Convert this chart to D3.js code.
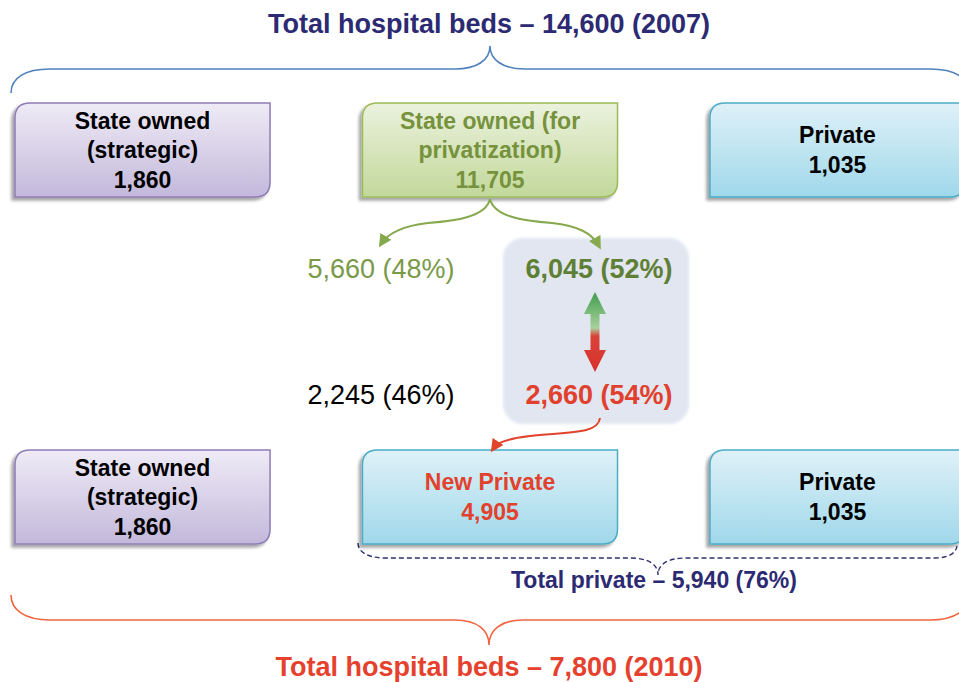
<!DOCTYPE html>
<html>
<head>
<meta charset="utf-8">
<script src="https://cdn.jsdelivr.net/npm/d3@7"></script>
<style>
  html, body { margin: 0; padding: 0; background: #fff; overflow: hidden; }
  text { font-family: Arial, "Liberation Sans", sans-serif; }
</style>
</head>
<body>
<script>
const [W, H] = [959, 682];

// data
const columns = ['strategic', 'privatization', 'private'];
const labels2007 = [['State owned', '(strategic)'], ['State owned (for', 'privatization)'], ['Private']];
const beds2007 = [1860, 11705, 1035];
const labels2010 = [['State owned', '(strategic)'], ['New Private'], ['Private']];
const beds2010 = [1860, 4905, 1035];
const splitKeys = ['kept', 'sold'];
const splitBeds = [5660, 6045];
const splitPct = [48, 52];
const transferBeds = [2245, 2660];
const transferPct = [46, 54];
const years = [2007, 2010];
const totalBeds = [14600, 7800];
const totalPrivate = 5940;
const totalPrivatePct = 76;

const fmt = d3.format(',');

function main() {
    const svg = d3.select('body').append('svg')
        .attr('width', W).attr('height', H);

    const defs = svg.append('defs');

    // shadow
    const f = defs.append('filter').attr('id', 'shadow')
        .attr('x', '-10%').attr('y', '-10%').attr('width', '120%').attr('height', '130%');
    f.append('feDropShadow').attr('dx', -3).attr('dy', 3).attr('stdDeviation', 1.8)
        .attr('flood-color', '#000').attr('flood-opacity', 0.35);

    const soft = defs.append('filter').attr('id', 'soft')
        .attr('x', '-10%').attr('y', '-10%').attr('width', '120%').attr('height', '120%');
    soft.append('feGaussianBlur').attr('stdDeviation', 1.5);

    // box gradients
    const styles = {
        purple: { top: '#efebf6', bottom: '#c3b8db', stroke: '#8e7cb6' },
        green:  { top: '#ebf2de', bottom: '#c2d89a', stroke: '#9bbb59' },
        blue:   { top: '#dff1f8', bottom: '#9fd8ea', stroke: '#4bacc6' }
    };
    Object.entries(styles).forEach(([k, s]) => {
        const g = defs.append('linearGradient').attr('id', 'grad-' + k)
            .attr('x1', 0).attr('y1', 0).attr('x2', 0).attr('y2', 1);
        g.append('stop').attr('offset', '0%').attr('stop-color', s.top);
        g.append('stop').attr('offset', '100%').attr('stop-color', s.bottom);
    });

    // double arrow gradient
    const ag = defs.append('linearGradient').attr('id', 'grad-arrow')
        .attr('x1', 0).attr('y1', 0).attr('x2', 0).attr('y2', 1);
    [['0%', '#3f9c4c'], ['45%', '#a9d19d'], ['55%', '#d8433a'], ['100%', '#d8302a']]
        .forEach(([o, c]) => ag.append('stop').attr('offset', o).attr('stop-color', c));

    // arrowhead markers
    [['green', '#86a94e'], ['red', '#e2432b']].forEach(([k, c]) => {
        defs.append('marker').attr('id', 'head-' + k)
            .attr('viewBox', '0 0 10 10').attr('refX', 7).attr('refY', 5)
            .attr('markerWidth', 6.5).attr('markerHeight', 6.5)
            .attr('markerUnits', 'strokeWidth')
            .attr('orient', 'auto')
            .append('path').attr('d', 'M0,0 L10,5 L0,10 Z').attr('fill', c);
    });

    // scales
    const xCol = d3.scaleBand().domain(columns).range([15, 965]).paddingInner(0.266);
    const xSplit = d3.scalePoint().domain(splitKeys).range([381, 599]);
    const yRow = d3.scaleOrdinal().domain(years).range([103, 450]);
    const boxH = 94;

    // box with rounded top-left and bottom-right corners
    function boxPath(x, y, w, h, r) {
        return `M${x + r},${y} L${x + w},${y} L${x + w},${y + h - r} ` +
            `Q${x + w},${y + h} ${x + w - r},${y + h} L${x},${y + h} L${x},${y + r} ` +
            `Q${x},${y} ${x + r},${y} Z`;
    }

    const boxStyle2007 = ['purple', 'green', 'blue'];
    const boxStyle2010 = ['purple', 'blue', 'blue'];
    const textColor2007 = ['#000', '#76923c', '#000'];
    const textColor2010 = ['#000', '#e2412d', '#000'];

    function drawRow(year, labels, beds, boxStyles, textColors) {
        const y0 = yRow(year);
        const rows = columns.map((c, i) => ({
            col: c, lines: labels[i].concat([fmt(beds[i])]),
            style: boxStyles[i], color: textColors[i]
        }));
        const g = svg.append('g').selectAll('g').data(rows).enter().append('g');

        g.append('path')
            .attr('d', d => boxPath(xCol(d.col), y0, xCol.bandwidth(), boxH, 15))
            .attr('fill', d => 'url(#grad-' + d.style + ')')
            .attr('stroke', d => styles[d.style].stroke)
            .attr('stroke-width', 1.5)
            .attr('filter', 'url(#shadow)');

        g.each(function (d) {
            const n = d.lines.length;
            const cy = y0 + boxH / 2 + 8;
            d3.select(this).selectAll('text').data(d.lines).enter().append('text')
                .attr('x', xCol(d.col) + xCol.bandwidth() / 2)
                .attr('y', (t, i) => cy + (i - (n - 1) / 2) * 29.5)
                .attr('text-anchor', 'middle')
                .attr('font-size', 23)
                .attr('font-weight', 'bold')
                .attr('fill', d.color)
                .text(t => t);
        });
    }

    // braces
    svg.append('path')
        .attr('d', 'M11,93 C11,78 25,69 50,69 L455,69 C477,69 490,60 490,46 ' +
            'C490,60 503,69 525,69 L930,69 C955,69 969,78 969,93')
        .attr('fill', 'none').attr('stroke', '#4f81bd').attr('stroke-width', 1.6);

    svg.append('path')
        .attr('d', 'M11,595 C11,610 25,620 50,620 L455,620 C477,620 489,630 489,645 ' +
            'C489,630 501,620 523,620 L930,620 C955,620 969,610 969,595')
        .attr('fill', 'none').attr('stroke', '#f0643f').attr('stroke-width', 1.6);

    svg.append('path')
        .attr('d', 'M358,543 C358,552 368,558 385,558 L630,558 C648,558 658,564 658,575 ' +
            'C658,564 668,558 686,558 L935,558 C950,558 957,552 957,545')
        .attr('fill', 'none').attr('stroke', '#2f2f72').attr('stroke-width', 1.4)
        .attr('stroke-dasharray', '5,3');

    // titles
    const titleColors = ['#2c2a72', '#e5412d'];
    const titleY = [33, 676];
    svg.selectAll('.title').data(years).enter().append('text')
        .attr('class', 'title')
        .attr('x', 489).attr('y', (d, i) => titleY[i])
        .attr('text-anchor', 'middle')
        .attr('font-size', 27).attr('font-weight', 'bold')
        .attr('fill', (d, i) => titleColors[i])
        .text((d, i) => `Total hospital beds \u2013 ${fmt(totalBeds[i])} (${d})`);

    svg.append('text')
        .attr('x', 654).attr('y', 588)
        .attr('text-anchor', 'middle')
        .attr('font-size', 23).attr('font-weight', 'bold')
        .attr('fill', '#2c2a72')
        .text(`Total private \u2013 ${fmt(totalPrivate)} (${totalPrivatePct}%)`);

    // panel behind the sold beds
    svg.append('rect')
        .attr('x', 503).attr('y', 238).attr('width', 186).attr('height', 186)
        .attr('rx', 20).attr('ry', 20)
        .attr('fill', '#e1e6f1')
        .attr('filter', 'url(#soft)');

    drawRow(2007, labels2007, beds2007, boxStyle2007, textColor2007);
    drawRow(2010, labels2010, beds2010, boxStyle2010, textColor2010);

    // green split arrows
    svg.append('path')
        .attr('d', 'M490,199 C486,217 455,221 428,223 C402,226 388,233 381,244')
        .attr('fill', 'none').attr('stroke', '#86a94e').attr('stroke-width', 2)
        .attr('marker-end', 'url(#head-green)');
    svg.append('path')
        .attr('d', 'M490,199 C494,217 525,221 552,223 C578,226 592,233 599,246')
        .attr('fill', 'none').attr('stroke', '#86a94e').attr('stroke-width', 2)
        .attr('marker-end', 'url(#head-green)');

    // red arrow to new private
    svg.append('path')
        .attr('d', 'M600,418 C598,434 570,432 530,436 C505,439 497,443 493,449')
        .attr('fill', 'none').attr('stroke', '#e2432b').attr('stroke-width', 2)
        .attr('marker-end', 'url(#head-red)');

    // split / transfer values
    const splitColors = ['#7a9a48', '#5f7f34'];
    const splitWeights = ['normal', 'bold'];
    svg.selectAll('.split').data(splitKeys).enter().append('text')
        .attr('class', 'split')
        .attr('x', d => xSplit(d)).attr('y', 278)
        .attr('text-anchor', 'middle')
        .attr('font-size', 27)
        .attr('font-weight', (d, i) => splitWeights[i])
        .attr('fill', (d, i) => splitColors[i])
        .text((d, i) => `${fmt(splitBeds[i])} (${splitPct[i]}%)`);

    const transferColors = ['#000', '#e0402c'];
    svg.selectAll('.transfer').data(splitKeys).enter().append('text')
        .attr('class', 'transfer')
        .attr('x', d => xSplit(d)).attr('y', 404)
        .attr('text-anchor', 'middle')
        .attr('font-size', 27)
        .attr('font-weight', (d, i) => splitWeights[i])
        .attr('fill', (d, i) => transferColors[i])
        .text((d, i) => `${fmt(transferBeds[i])} (${transferPct[i]}%)`);

    // double arrow
    const ax = xSplit('sold') - 4, top = 292, bot = 372, hw = 11, hl = 22, sw = 4.5;
    svg.append('path')
        .attr('d', `M${ax},${top} L${ax + hw},${top + hl} L${ax + sw},${top + hl} ` +
            `L${ax + sw},${bot - hl} L${ax + hw},${bot - hl} L${ax},${bot} ` +
            `L${ax - hw},${bot - hl} L${ax - sw},${bot - hl} L${ax - sw},${top + hl} ` +
            `L${ax - hw},${top + hl} Z`)
        .attr('fill', 'url(#grad-arrow)');
}

document.addEventListener('DOMContentLoaded', main);
</script>
</body>
</html>
